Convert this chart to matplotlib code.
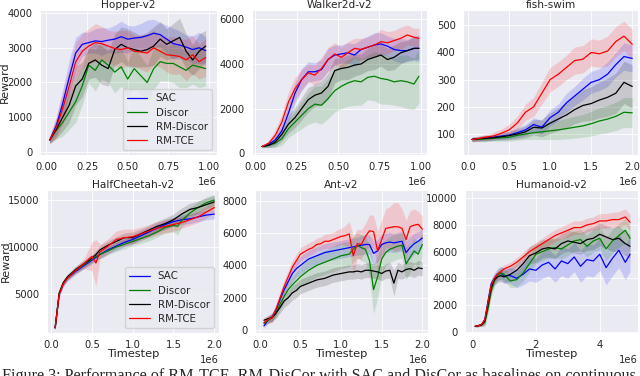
import numpy as np
import matplotlib.pyplot as plt
import seaborn as sns

sns.set_style('darkgrid')
plt.rcParams['font.family'] = ['DejaVu Sans']
plt.rcParams['grid.linewidth'] = 0.6

names = ['SAC', 'Discor', 'RM-Discor', 'RM-TCE']
colors = ['blue', 'green', 'black', 'red']

# ---- Hopper-v2 (steps in 1e6)
hopper_steps = [0.02, 0.06, 0.10, 0.14, 0.18, 0.22, 0.26, 0.30, 0.34, 0.38, 0.42, 0.46, 0.50,
                0.54, 0.58, 0.62, 0.66, 0.70, 0.74, 0.78, 0.82, 0.86, 0.90, 0.94, 0.98]
hopper_sac = [340, 750, 1400, 2150, 2850, 3100, 3150, 3200, 3180, 3220, 3250, 3320, 3250,
              3280, 3300, 3350, 3420, 3380, 3250, 3120, 3080, 3020, 2950, 3000, 2920]
hopper_discor = [340, 620, 850, 1150, 1450, 1900, 2500, 2350, 2650, 2500, 2300, 2450, 2100,
                 2400, 2200, 2000, 2400, 2600, 2550, 2550, 2450, 2350, 2500, 2450, 2400]
hopper_rmdiscor = [340, 650, 1000, 1350, 1900, 2100, 2550, 2650, 2500, 2400, 2950, 3100, 3000,
                   2950, 2900, 2950, 3050, 3250, 3100, 3200, 3300, 2900, 2650, 2900, 3050]
hopper_rmtce = [340, 700, 1250, 1900, 2600, 2900, 3050, 3150, 3120, 3050, 2980, 2950, 3000,
                2900, 2880, 2850, 3000, 2900, 2800, 2780, 2750, 2650, 2800, 2600, 2720]
hopper_sac_sd = [100, 250, 400, 500, 450, 350, 300, 350, 400, 350, 400, 450, 400,
                 350, 400, 450, 400, 350, 400, 450, 400, 350, 400, 450, 400]
hopper_discor_sd = [100, 250, 400, 500, 600, 550, 500, 600, 550, 500, 600, 550, 500,
                    600, 550, 500, 600, 550, 500, 550, 600, 500, 550, 600, 500]
hopper_rmdiscor_sd = [100, 250, 400, 500, 550, 500, 450, 500, 550, 500, 450, 500, 550,
                      500, 450, 500, 550, 500, 450, 500, 550, 500, 450, 500, 450]
hopper_rmtce_sd = [100, 300, 450, 500, 550, 500, 500, 550, 500, 450, 500, 550, 500,
                   450, 500, 550, 500, 450, 500, 550, 500, 600, 550, 500, 550]

# ---- Walker2d-v2
walker_steps = [0.04, 0.08, 0.12, 0.16, 0.20, 0.24, 0.28, 0.32, 0.36, 0.40, 0.44, 0.48, 0.52,
                0.56, 0.60, 0.64, 0.68, 0.72, 0.76, 0.80, 0.84, 0.88, 0.92, 0.96, 0.99]
walker_sac = [300, 400, 600, 1000, 1800, 2700, 3300, 3650, 3650, 3750, 4200, 4400, 4450,
              4500, 4400, 4650, 4750, 4850, 4900, 4800, 4650, 4600, 4600, 4700, 4700]
walker_discor = [300, 350, 450, 650, 1100, 1400, 1700, 2000, 2200, 2150, 2450, 2800, 3000,
                 3150, 3250, 3200, 3400, 3450, 3350, 3300, 3200, 3250, 3200, 3100, 3450]
walker_rmdiscor = [300, 350, 500, 850, 1300, 1600, 2000, 2400, 2600, 2700, 3000, 3700, 3800,
                   3850, 3950, 4000, 4200, 4300, 4400, 4200, 4300, 4500, 4600, 4700, 4700]
walker_rmtce = [300, 450, 800, 1400, 2300, 2900, 3300, 3600, 3500, 3800, 4200, 4450, 4300,
                4500, 4700, 4650, 4750, 4850, 5000, 4950, 5050, 5150, 5300, 5200, 5150]
walker_sac_sd = [50, 100, 200, 300, 400, 450, 500, 450, 400, 450, 500, 450, 400,
                 450, 500, 450, 500, 550, 500, 450, 500, 550, 500, 550, 600]
walker_discor_sd = [50, 100, 200, 300, 400, 500, 600, 700, 800, 850, 900, 950, 1000,
                    1050, 1100, 1050, 1000, 1100, 1150, 1100, 1050, 1150, 1200, 1150, 1200]
walker_rmdiscor_sd = [50, 100, 200, 300, 400, 450, 500, 550, 500, 550, 600, 550, 500,
                      550, 500, 450, 500, 550, 500, 500, 550, 500, 450, 500, 500]
walker_rmtce_sd = [50, 100, 250, 350, 450, 500, 450, 400, 450, 500, 550, 500, 450,
                   500, 450, 500, 450, 500, 550, 500, 450, 500, 450, 400, 450]

# ---- fish-swim
fish_steps = [0.05, 0.1, 0.2, 0.3, 0.4, 0.5, 0.6, 0.7, 0.8, 0.9, 1.0,
              1.1, 1.2, 1.3, 1.4, 1.5, 1.6, 1.7, 1.8, 1.9, 2.0]
fish_sac = [80, 82, 85, 88, 92, 96, 105, 115, 135, 125, 160,
            180, 215, 240, 265, 290, 300, 320, 355, 385, 378]
fish_discor = [80, 80, 82, 84, 86, 88, 95, 100, 105, 108, 112,
               115, 120, 125, 130, 138, 148, 155, 165, 180, 178]
fish_rmdiscor = [80, 82, 84, 86, 90, 94, 100, 108, 125, 122, 140,
                 155, 170, 190, 205, 212, 225, 235, 250, 290, 275]
fish_rmtce = [80, 82, 88, 92, 102, 115, 140, 180, 200, 250, 300,
              320, 345, 370, 375, 400, 395, 405, 440, 460, 430]
fish_sac_sd = [8, 8, 10, 10, 12, 14, 18, 20, 25, 25, 30,
               30, 35, 35, 40, 40, 40, 45, 45, 50, 50]
fish_discor_sd = [8, 8, 10, 10, 12, 14, 18, 20, 24, 28, 32,
                  35, 38, 40, 42, 45, 48, 50, 52, 55, 55]
fish_rmdiscor_sd = [8, 8, 10, 10, 12, 15, 18, 22, 28, 32, 38,
                    42, 48, 52, 58, 62, 66, 70, 74, 78, 80]
fish_rmtce_sd = [8, 8, 10, 12, 15, 20, 25, 30, 35, 40, 45,
                 45, 45, 50, 50, 50, 50, 55, 55, 55, 55]

# ---- HalfCheetah-v2
cheetah_steps = [0.05, 0.1, 0.15, 0.2, 0.3, 0.4, 0.5, 0.55, 0.6, 0.7, 0.8, 0.9,
                 1.0, 1.1, 1.2, 1.3, 1.4, 1.5, 1.55, 1.6, 1.7, 1.8, 1.9, 2.0]
cheetah_sac = [1400, 5000, 6100, 6700, 7400, 8000, 8600, 8900, 9200, 9700, 10100, 10500,
               10800, 11200, 11600, 12000, 12400, 12700, 12800, 12900, 13000, 13200, 13400, 13500]
cheetah_discor = [1400, 5100, 6200, 6800, 7500, 8100, 8700, 9000, 9200, 9600, 10000, 10300,
                  10600, 10900, 11200, 11600, 12100, 12300, 12200, 12800, 13600, 14200, 14700, 15000]
cheetah_rmdiscor = [1400, 5100, 6200, 6800, 7600, 8200, 8800, 9200, 9700, 10200, 10600, 11000,
                    11000, 11400, 11800, 12200, 12500, 12900, 13200, 13500, 14000, 14200, 14500, 14800]
cheetah_rmtce = [1400, 5000, 6100, 6700, 7500, 8200, 9000, 8300, 9500, 10100, 10800, 11000,
                 11100, 11400, 11700, 12000, 12200, 12400, 12500, 12600, 12900, 13200, 13700, 14200]
cheetah_sac_sd = [200, 300, 300, 300, 300, 350, 400, 400, 400, 400, 450, 450,
                  450, 500, 500, 500, 500, 500, 500, 500, 500, 500, 500, 500]
cheetah_discor_sd = [200, 300, 300, 300, 300, 350, 400, 400, 400, 450, 450, 500,
                     500, 500, 550, 550, 600, 700, 900, 700, 600, 600, 600, 600]
cheetah_rmdiscor_sd = [200, 300, 300, 300, 350, 400, 400, 400, 450, 450, 500, 500,
                       600, 500, 500, 550, 600, 600, 650, 650, 650, 700, 700, 700]
cheetah_rmtce_sd = [200, 300, 300, 300, 400, 500, 1500, 2500, 800, 800, 900, 900,
                    800, 700, 700, 700, 700, 700, 700, 600, 600, 600, 600, 600]

# ---- Ant-v2
ant_steps = [0.05, 0.10, 0.15, 0.20, 0.25, 0.30, 0.35, 0.40, 0.45, 0.50,
             0.55, 0.60, 0.65, 0.70, 0.75, 0.80, 0.85, 0.90, 0.95, 1.00,
             1.05, 1.10, 1.15, 1.20, 1.25, 1.30, 1.35, 1.40, 1.45, 1.50,
             1.55, 1.60, 1.65, 1.70, 1.75, 1.80, 1.85, 1.90, 1.95, 2.00]
ant_sac = [250, 600, 800, 1250, 1900, 2500, 3000, 3500, 3800, 4000,
           4200, 4400, 4500, 4600, 4700, 4800, 4850, 4900, 4950, 5000,
           5050, 5100, 5150, 5200, 5250, 5300, 5300, 4750, 4900, 5300,
           5400, 5450, 5400, 5450, 5500, 4800, 5100, 5350, 5500, 5700]
ant_discor = [400, 600, 750, 1050, 1600, 2100, 2500, 2800, 3050, 3300,
              3500, 3700, 3850, 4000, 4100, 4200, 4300, 4400, 4500, 4600,
              4650, 4700, 5000, 5250, 5100, 5000, 4300, 2500, 3300, 4400,
              4800, 5000, 5100, 5200, 5250, 4100, 4500, 4900, 4700, 5300]
ant_rmdiscor = [600, 700, 750, 1050, 1400, 1800, 2000, 2300, 2450, 2700,
                2800, 2900, 3000, 3100, 3150, 3200, 3300, 3400, 3450, 3500,
                3550, 3600, 3600, 3650, 3600, 3700, 3700, 3650, 3600, 3500,
                3650, 3700, 2900, 3700, 3600, 3750, 3800, 3700, 3850, 3800]
ant_rmtce = [450, 650, 750, 1300, 2000, 2700, 3300, 3900, 4300, 4700,
             4850, 5000, 5100, 5300, 5350, 5500, 5500, 5600, 5700, 5800,
             5850, 5950, 4600, 5350, 5300, 5800, 6150, 6100, 4900, 5600,
             6300, 6350, 6400, 6400, 6300, 5600, 6400, 6500, 6550, 6250]
ant_sac_sd = [150, 200, 250, 300, 350, 400, 450, 500, 500, 550,
              550, 550, 550, 550, 550, 550, 550, 550, 550, 550,
              550, 550, 550, 550, 600, 600, 600, 700, 700, 650,
              600, 600, 600, 600, 600, 700, 700, 650, 600, 600]
ant_discor_sd = [150, 200, 250, 300, 350, 400, 450, 500, 550, 600,
                 650, 700, 700, 700, 750, 750, 750, 800, 800, 800,
                 800, 800, 800, 800, 800, 800, 1000, 1500, 1300, 1000,
                 800, 800, 800, 800, 800, 1000, 900, 800, 800, 800]
ant_rmdiscor_sd = [150, 200, 250, 300, 350, 400, 400, 450, 450, 450,
                   450, 450, 450, 450, 450, 450, 450, 450, 450, 450,
                   450, 450, 450, 450, 450, 450, 450, 450, 450, 450,
                   450, 500, 800, 500, 450, 450, 450, 450, 450, 450]
ant_rmtce_sd = [200, 250, 300, 350, 400, 400, 400, 400, 400, 400,
                400, 400, 400, 400, 400, 450, 450, 450, 500, 500,
                600, 800, 1200, 900, 900, 800, 1000, 1000, 1200, 1200,
                1200, 1300, 1500, 1500, 1200, 1200, 1000, 1000, 800, 800]

# ---- Humanoid-v2
humanoid_steps = [0.1, 0.2, 0.3, 0.4, 0.5, 0.6, 0.7, 0.8, 0.9, 1.0,
                  1.2, 1.4, 1.6, 1.8, 2.0, 2.2, 2.4, 2.6, 2.8, 3.0,
                  3.2, 3.4, 3.6, 3.8, 4.0, 4.2, 4.4, 4.6, 4.8, 4.95]
humanoid_sac = [400, 450, 550, 900, 2300, 3600, 4000, 4300, 4400, 4200,
                4200, 4000, 4300, 4700, 4600, 5000, 5200, 4700, 5300, 5100,
                5600, 4900, 5400, 5300, 5800, 4800, 5500, 6100, 5200, 5800]
humanoid_discor = [400, 450, 500, 700, 1700, 3000, 3800, 4200, 4400, 4300,
                   3800, 3900, 4400, 5100, 5800, 6000, 6200, 6300, 6200, 6500,
                   6800, 6900, 6400, 6800, 7000, 6200, 6800, 7200, 7600, 7000]
humanoid_rmdiscor = [400, 450, 500, 800, 2000, 3300, 3900, 4100, 4200, 4100,
                     4300, 4600, 5100, 5700, 5900, 6200, 6300, 6200, 6600, 6800,
                     6700, 6600, 6900, 7000, 7300, 7100, 6900, 7000, 6600, 6400]
humanoid_rmtce = [400, 450, 550, 900, 2200, 3500, 4000, 4300, 4500, 4700,
                  4900, 5200, 5600, 6000, 6300, 6600, 6900, 7200, 7400, 7600,
                  7800, 7800, 8000, 8100, 8300, 8300, 8400, 8400, 8600, 8200]
humanoid_sac_sd = [50, 80, 100, 300, 400, 400, 400, 450, 500, 550,
                   600, 700, 800, 900, 900, 1000, 1000, 1000, 1100, 1100,
                   1100, 1200, 1200, 1200, 1200, 1300, 1300, 1300, 1300, 1300]
humanoid_discor_sd = [50, 80, 100, 300, 400, 400, 400, 400, 450, 450,
                      500, 550, 600, 650, 700, 700, 700, 750, 750, 800,
                      800, 800, 800, 850, 850, 850, 900, 900, 900, 900]
humanoid_rmdiscor_sd = [50, 80, 100, 300, 400, 400, 400, 400, 450, 450,
                        500, 550, 600, 650, 700, 700, 700, 750, 750, 800,
                        800, 800, 800, 850, 850, 850, 900, 900, 900, 900]
humanoid_rmtce_sd = [50, 80, 100, 300, 400, 300, 300, 300, 300, 300,
                     300, 350, 350, 400, 400, 400, 450, 450, 450, 500,
                     500, 500, 500, 500, 550, 550, 550, 600, 600, 600]

panels = [
    ('Hopper-v2', hopper_steps,
     [hopper_sac, hopper_discor, hopper_rmdiscor, hopper_rmtce],
     [hopper_sac_sd, hopper_discor_sd, hopper_rmdiscor_sd, hopper_rmtce_sd]),
    ('Walker2d-v2', walker_steps,
     [walker_sac, walker_discor, walker_rmdiscor, walker_rmtce],
     [walker_sac_sd, walker_discor_sd, walker_rmdiscor_sd, walker_rmtce_sd]),
    ('fish-swim', fish_steps,
     [fish_sac, fish_discor, fish_rmdiscor, fish_rmtce],
     [fish_sac_sd, fish_discor_sd, fish_rmdiscor_sd, fish_rmtce_sd]),
    ('HalfCheetah-v2', cheetah_steps,
     [cheetah_sac, cheetah_discor, cheetah_rmdiscor, cheetah_rmtce],
     [cheetah_sac_sd, cheetah_discor_sd, cheetah_rmdiscor_sd, cheetah_rmtce_sd]),
    ('Ant-v2', ant_steps,
     [ant_sac, ant_discor, ant_rmdiscor, ant_rmtce],
     [ant_sac_sd, ant_discor_sd, ant_rmdiscor_sd, ant_rmtce_sd]),
    ('Humanoid-v2', humanoid_steps,
     [humanoid_sac, humanoid_discor, humanoid_rmdiscor, humanoid_rmtce],
     [humanoid_sac_sd, humanoid_discor_sd, humanoid_rmdiscor_sd, humanoid_rmtce_sd]),
]

# axes boxes in figure fractions
boxes = [
    [0.0625, 0.5878, 0.2766, 0.3856],
    [0.394, 0.5878, 0.2734, 0.3856],
    [0.7234, 0.5878, 0.2734, 0.3856],
    [0.0734, 0.1144, 0.2690, 0.3803],
    [0.3984, 0.1144, 0.2703, 0.3803],
    [0.7266, 0.1144, 0.2703, 0.3803],
]
ylabel_x = [-0.17, None, None, -0.212, None, None]
xlims = [(-0.04, 1.05), (-0.02, 1.04), (-0.06, 2.07), (-0.05, 2.06), (-0.06, 2.07), (-0.22, 5.2)]
ylims = [(-90, 4090), (-80, 6420), (23, 556), (850, 16070), (-190, 8680), (-100, 10620)]
xticks = [np.arange(0, 1.01, 0.25), np.arange(0, 1.01, 0.25), np.arange(0, 2.01, 0.5),
          np.arange(0, 2.01, 0.5), np.arange(0, 2.01, 0.5), [0, 2, 4]]
yticks = [range(0, 4001, 1000), range(0, 6001, 2000), range(100, 501, 100),
          [5000, 10000, 15000], range(0, 8001, 2000), range(0, 10001, 2000)]

fig = plt.figure(figsize=(6.4, 3.76), dpi=100)

for i, (title, steps, means, sds) in enumerate(panels):
    ax = fig.add_axes(boxes[i])
    x = np.array(steps) * 1e6
    for name, c, m, s in zip(names, colors, means, sds):
        m = np.array(m)
        s = np.array(s)
        ax.fill_between(x, m - s, m + s, color=c, alpha=0.15, lw=0)
        ax.plot(x, m, color=c, lw=0.9, label=name)
    ax.set_title(title, fontsize=7.6, pad=1.5)
    ax.set_xlim(xlims[i][0] * 1e6, xlims[i][1] * 1e6)
    ax.set_ylim(*ylims[i])
    ax.set_xticks(np.array(xticks[i]) * 1e6)
    ax.set_yticks(list(yticks[i]))
    ax.tick_params(labelsize=7.2, pad=1.8)
    ax.xaxis.get_offset_text().set_fontsize(7.2)
    if i % 3 == 0:
        ax.set_ylabel('Reward', fontsize=8)
        ax.yaxis.set_label_coords(ylabel_x[i], 0.5)
        ax.legend(loc='lower right', fontsize=7.4, handlelength=2.0,
                  borderaxespad=0.5, labelspacing=0.4)
    if i >= 3:
        ax.set_xlabel('Timestep', fontsize=8.2, labelpad=-1)

fig.text(0.003, 0.021,
         'Figure 3: Performance of RM-TCE, RM-DisCor with SAC and DisCor as baselines on continuous',
         family='Liberation Serif', fontsize=11.6, ha='left', va='top')

fig.savefig('out.png', dpi=100)
